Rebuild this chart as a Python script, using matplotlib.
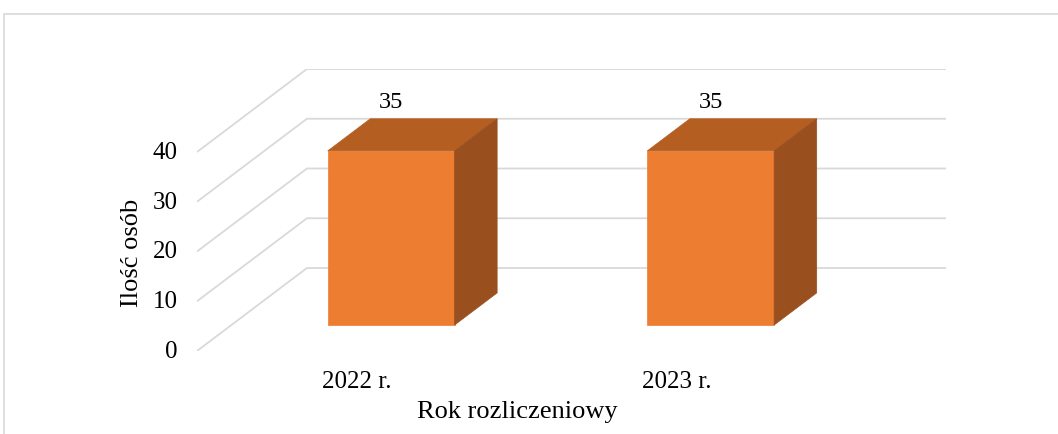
import matplotlib
matplotlib.use("Agg")
import matplotlib.pyplot as plt
from matplotlib.patches import Polygon, Rectangle

# ---- data ----
categories = ["2022 r.", "2023 r."]
values = [35, 35]
y_ticks = [0, 10, 20, 30, 40]
x_title = "Rok rozliczeniowy"
y_title = "Ilość osób"

# ---- styling / geometry ----
FRONT = "#ED7D31"
TOP = "#B45E22"
SIDE = "#9A4F1E"
GRID = "#D9D9D9"
FONT = ["Liberation Serif", "DejaVu Serif"]

W, H, DPI = 1058, 435, 100
fig = plt.figure(figsize=(W / DPI, H / DPI), dpi=DPI)
fig.patch.set_facecolor("white")

# oblique depth of the chart box (data units)
depth_dx = 0.344
depth_dy = 16.68
ymax = 40
xmin, xmax = -0.5, len(categories) - 0.5

# axes placement in pixels (front plane x range -> 197..836, y 0..40 -> 352..153)
px_left, px_right = 197, 946
px_bottom, px_top = 352, 70
ax = fig.add_axes([px_left / W, (H - px_bottom) / H,
                   (px_right - px_left) / W, (px_bottom - px_top) / H])
ax.set_xlim(xmin, xmax + depth_dx)
ax.set_ylim(0, ymax + depth_dy)
ax.axis("off")

# gridlines: diagonal on side wall + horizontal on back wall
for v in y_ticks:
    ax.plot([xmin, xmin + depth_dx, xmax + depth_dx],
            [v, v + depth_dy, v + depth_dy],
            color=GRID, lw=1.3, zorder=1, solid_capstyle="butt")
    ax.text(xmin - 0.06, v, str(v), ha="right", va="center",
            fontsize=18, family=FONT, color="#000000")

# bars (front plane at 31% depth, back at 70% depth)
bar_w = 0.397
f0, f1 = 0.313, 0.70
for i, val in enumerate(values):
    x0 = i - bar_w / 2 + f0 * depth_dx
    x1 = i + bar_w / 2 + f0 * depth_dx
    y0 = f0 * depth_dy
    y1 = y0 + val
    ddx = (f1 - f0) * depth_dx
    ddy = (f1 - f0) * depth_dy
    front = Polygon([(x0, y0), (x1, y0), (x1, y1), (x0, y1)], closed=True,
                    facecolor=FRONT, edgecolor=FRONT, lw=0.5, zorder=3)
    top = Polygon([(x0, y1), (x1, y1), (x1 + ddx, y1 + ddy), (x0 + ddx, y1 + ddy)],
                  closed=True, facecolor=TOP, edgecolor=TOP, lw=0.5, zorder=3)
    side = Polygon([(x1, y0), (x1 + ddx, y0 + ddy), (x1 + ddx, y1 + ddy), (x1, y1)],
                   closed=True, facecolor=SIDE, edgecolor=SIDE, lw=0.5, zorder=3)
    for p in (front, top, side):
        ax.add_patch(p)
    ax.text((x0 + x1) / 2, y1 + ddy + 1.3, str(val), ha="center", va="bottom",
            fontsize=17.5, family=FONT, color="#000000", zorder=4)
    # category label on front plane
    ax.text(i, -6.0, categories[i], ha="center", va="center",
            fontsize=18, family=FONT, color="#000000", clip_on=False)

# axis titles
fig.text(517 / W, 1 - 412 / H, x_title, ha="center", va="center",
         fontsize=19, family=FONT, color="#000000")
fig.text(132 / W, 1 - 253 / H, y_title, ha="center", va="center",
         rotation=90, fontsize=19, family=FONT, color="#000000")

# chart area border (left and top visible)
fig.patches.append(Rectangle((3.5 / W, -0.05), 1.2, 1 - 14.5 / H + 0.05,
                             transform=fig.transFigure, fill=False,
                             edgecolor=GRID, lw=1.2))

fig.savefig("out.png", dpi=DPI)
